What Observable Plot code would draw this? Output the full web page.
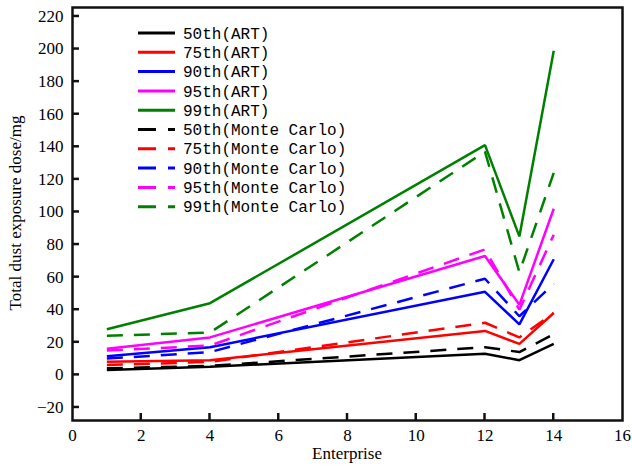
<!DOCTYPE html>
<html><head><meta charset="utf-8">
<script src="https://cdn.jsdelivr.net/npm/d3@7"></script>
<script src="https://cdn.jsdelivr.net/npm/@observablehq/plot@0.6"></script>
<style>body{margin:0;background:#fff}</style>
</head><body><div id="chart"></div>
<script>
const enterprises = [1, 4, 12, 13, 14];
const seriesNames = ["50th(ART)","75th(ART)","90th(ART)","95th(ART)","99th(ART)",
  "50th(Monte Carlo)","75th(Monte Carlo)","90th(Monte Carlo)","95th(Monte Carlo)","99th(Monte Carlo)"];
const art50 = [3, 5, 13, 9, 19];
const art75 = [8, 9, 27, 19, 38];
const art90 = [11.5, 17, 51, 31, 71];
const art95 = [16, 23, 73, 43, 102];
const art99 = [28, 44, 141, 85, 199];
const mc50 = [4, 5.5, 17, 14, 25];
const mc75 = [6, 8, 32, 23, 38];
const mc90 = [10, 14, 59, 36, 56];
const mc95 = [15, 18, 77, 40, 86];
const mc99 = [24, 26, 137, 63, 124];
const xTicks = [0, 2, 4, 6, 8, 10, 12, 14, 16];
const yTicks = [-20, 0, 20, 40, 60, 80, 100, 120, 140, 160, 180, 200, 220];
const colors = ["#000000", "#ff0000", "#0000ff", "#ff00ff", "#008000"];

const allSeries = [art50, art75, art90, art95, art99, mc50, mc75, mc90, mc95, mc99];
const rows = [];
allSeries.forEach((vals, si) => vals.forEach((v, i) => rows.push({series: seriesNames[si], idx: si, x: enterprises[i], y: v})));

const W = 632, H = 466, ML = 72, MR = 10, MT = 7, MB = 46, TK = 7;
const SERIF = "Liberation Serif";
const marks = [];
allSeries.forEach((vals, si) => {
  const data = rows.filter(r => r.idx === si);
  marks.push(Plot.line(data, {x: "x", y: "y", stroke: colors[si % 5], strokeWidth: 2.5,
    strokeDasharray: si >= 5 ? "16,11" : null, strokeLinejoin: "miter", strokeLinecap: "butt"}));
});

const plot = Plot.plot({
  width: W, height: H,
  marginLeft: ML, marginRight: MR, marginTop: MT, marginBottom: MB,
  style: {fontFamily: SERIF, fontSize: "16px", color: "#000", background: "#fff"},
  x: {domain: [0, 16], ticks: xTicks, label: null},
  y: {domain: [-28, 225.5], ticks: yTicks, label: null},
  marks: [
    Plot.axisX({ticks: xTicks, tickSize: 0, tickPadding: 8, tickFormat: d => String(d), fontSize: 17}),
    Plot.axisY({ticks: yTicks, tickSize: 0, tickPadding: 9, tickFormat: d => d < 0 ? "\u2212" + Math.abs(d) : String(d), fontSize: 17}),
    ...marks,
    Plot.frame({stroke: "#111", strokeWidth: 2.5})
  ]
});

const svg = d3.select(plot);
svg.selectAll("text").attr("font-family", SERIF).style("font-family", SERIF);
const sx = plot.scale("x"), sy = plot.scale("y");
const tg = svg.append("g");
yTicks.forEach(t => {
  const py = sy.apply(t);
  tg.append("path").attr("d", `M${ML},${py}h${TK}`).attr("stroke", "#111").attr("stroke-width", 2.5).attr("fill", "none");
});
xTicks.slice(1, -1).forEach(t => {
  const px = sx.apply(t);
  tg.append("path").attr("d", `M${px},${H - MB}v${-TK}`).attr("stroke", "#111").attr("stroke-width", 2.5).attr("fill", "none");
});
// axis titles
svg.append("text").attr("x", 347).attr("y", 459).attr("text-anchor", "middle")
  .attr("font-family", SERIF).attr("font-size", 17).text("Enterprise");
svg.append("text").attr("transform", "translate(21,213) rotate(-90)").attr("text-anchor", "middle")
  .attr("font-family", SERIF).attr("font-size", 17).text("Total dust exposure dose/mg");
// legend
const lg = svg.append("g");
seriesNames.forEach((name, i) => {
  const y = 33 + i * 19.3;
  lg.append("line").attr("x1", 138).attr("x2", 175).attr("y1", y).attr("y2", y)
    .attr("stroke", colors[i % 5]).attr("stroke-width", 3)
    .attr("stroke-dasharray", i >= 5 ? "18,12" : null);
  lg.append("text").attr("x", 183).attr("y", y).attr("dy", "0.35em").attr("text-anchor", "start")
    .attr("font-family", "Liberation Mono").attr("font-size", 16).text(name);
});
document.getElementById("chart").appendChild(plot);
</script>
</body></html>
